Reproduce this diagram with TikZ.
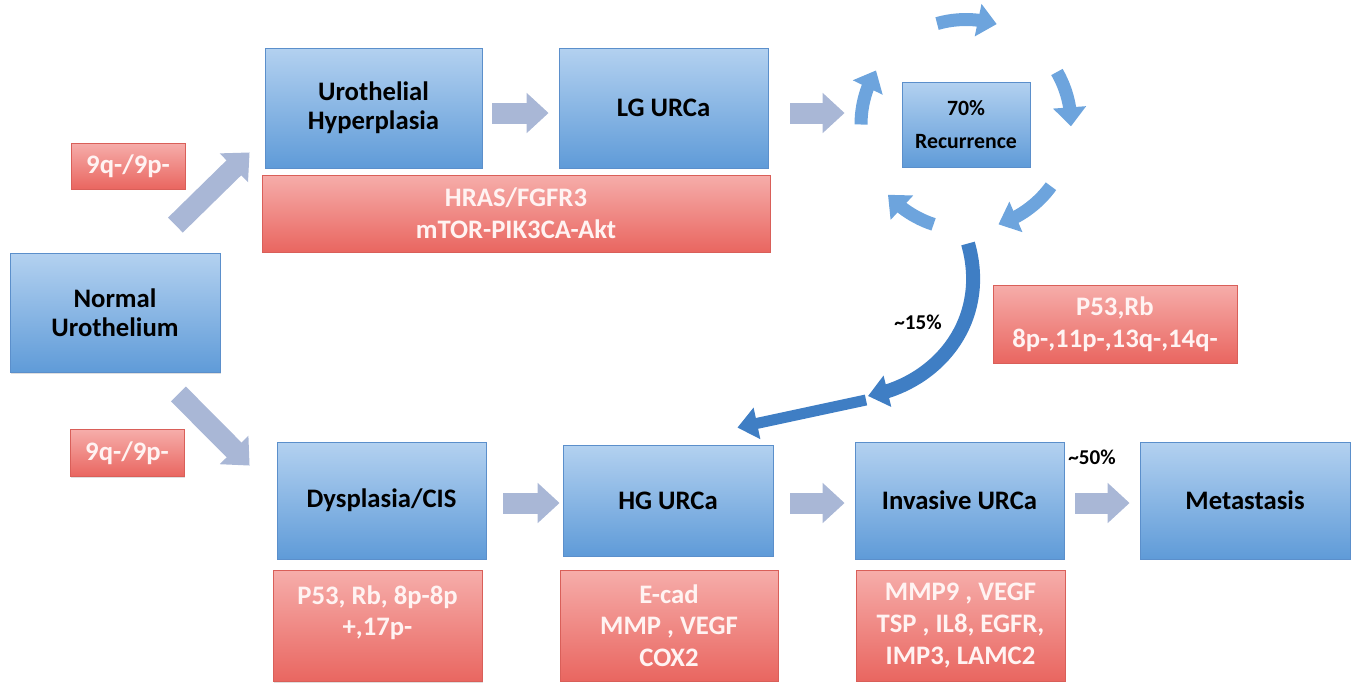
\documentclass[tikz,border=0pt]{standalone}
\usepackage{fontspec}
\setmainfont{Carlito}
\usetikzlibrary{arrows.meta,bending,shadows,positioning}

\definecolor{bluetop}{HTML}{B3D1F0}
\definecolor{bluebot}{HTML}{5F9BD8}
\definecolor{blueedge}{HTML}{5B8FCB}
\definecolor{redtop}{HTML}{F6ADAA}
\definecolor{redbot}{HTML}{E96660}
\definecolor{rededge}{HTML}{D95F59}
\definecolor{redtext}{HTML}{FFF3F2}
\definecolor{fatgrey}{HTML}{A9B7D6}
\definecolor{loopblue}{HTML}{6DA4DD}
\definecolor{jumpblue}{HTML}{3F7EC4}

\begin{document}
\begin{tikzpicture}[x=0.02cm, y=-0.02cm]
        \tikzstyle{bluebox}=[rectangle, draw=blueedge, line width=0.5pt, top color=bluetop, bottom color=bluebot, text=black, align=center, inner sep=0pt, font=\fontsize{15.2}{16.5}\selectfont\bfseries, drop shadow={opacity=0.25, shadow xshift=0.6pt, shadow yshift=-0.8pt}]
        \tikzstyle{redbox}=[rectangle, draw=rededge, line width=0.5pt, top color=redtop, bottom color=redbot, text=redtext, align=center, inner sep=0pt, font=\fontsize{15.2}{18}\selectfont\bfseries, drop shadow={opacity=0.25, shadow xshift=0.6pt, shadow yshift=-0.8pt}]
        \tikzstyle{fat}=[draw=fatgrey, line width=0.42cm, -{Triangle[length=0.44cm, width=0.78cm]}]
        \tikzstyle{loop}=[draw=loopblue, line width=0.26cm, -{Triangle[length=0.38cm, width=0.64cm]}]
        \tikzstyle{jump}=[draw=jumpblue, line width=0.28cm, -{Triangle[length=0.4cm, width=0.62cm]}]
        \tikzstyle{pct}=[font=\fontsize{12}{14}\selectfont\bfseries, inner sep=1pt]
        \useasboundingbox (0,0) rectangle (1356,683);
        \node [bluebox, minimum width=4.2cm, minimum height=2.38cm] (norm) at (115,313) {Normal\\Urothelium};
        \node [redbox, minimum width=2.28cm, minimum height=0.92cm] (qup) at (128,166) {9q-/9p-};
        \node [redbox, minimum width=2.28cm, minimum height=0.94cm] (qdn) at (127,453) {9q-/9p-};
        \node [bluebox, minimum width=4.34cm, minimum height=2.4cm] (hyper) at (373.5,108) {Urothelial\\Hyperplasia};
        \node [bluebox, minimum width=4.18cm, minimum height=2.4cm] (lg) at (663.5,108) {LG URCa};
        \node [redbox, minimum width=10.16cm, minimum height=1.54cm] (hras) at (516,213.5) {HRAS/FGFR3\\mTOR-PIK3CA-Akt};
        \node [bluebox, minimum width=2.56cm, minimum height=1.7cm, font=\fontsize{12.4}{19}\selectfont\bfseries] (rec) at (966,124.5) {70\%\\Recurrence};
        \node [redbox, minimum width=4.88cm, minimum height=1.56cm] (p53) at (1115,324) {P53,Rb\\8p-,11p-,13q-,14q-};
        \node [bluebox, minimum width=4.18cm, minimum height=2.34cm] (dys) at (381.5,500.5) {Dysplasia/CIS};
        \node [bluebox, minimum width=4.2cm, minimum height=2.22cm] (hg) at (668,500.5) {HG URCa};
        \node [bluebox, minimum width=4.18cm, minimum height=2.34cm] (inv) at (959.5,500.5) {Invasive URCa};
        \node [bluebox, minimum width=4.2cm, minimum height=2.34cm] (meta) at (1245,500.5) {Metastasis};
        \node [redbox, minimum width=4.18cm, minimum height=2.22cm, below=0.22cm of dys.south, xshift=-0.08cm] (dysr) {P53, Rb, 8p-8p\\+,17p-\\\phantom{X}};
        \node [redbox, minimum width=4.36cm, minimum height=2.22cm] (hgr) at (669,625.5) {E-cad\\MMP , VEGF\\COX2};
        \node [redbox, minimum width=4.18cm, minimum height=2.22cm] (invr) at (960.5,625.5) {MMP9 , VEGF\\TSP , IL8, EGFR,\\IMP3, LAMC2};
        \node [pct] (pct15) at (918,322) {\textasciitilde15\%};
        \node [pct] (pct50) at (1092,457) {\textasciitilde50\%};
        \draw [fat] ([shift={(-45,-28)}]norm.north east) -- ([shift={(-15,-16)}]hyper.south west);
        \draw [fat] ([shift={(-42,21)}]norm.south east) -- ([shift={(-27,24)}]dys.north west);
        \draw [fat, shorten <=0.2cm, shorten >=0.2cm] ([yshift=-0.1cm]hyper.east) -- ([yshift=-0.1cm]hyper.east -| lg.west);
        \draw [fat, shorten <=0.44cm, shorten >=1.14cm] ([yshift=-0.1cm]lg.east) -- ([yshift=-0.1cm]lg.east -| rec.west);
        \draw [fat, shorten <=0.34cm, shorten >=0.06cm] ([yshift=-0.05cm]dys.east) -- ([yshift=-0.05cm]dys.east -| hg.west);
        \draw [fat, shorten <=0.34cm, shorten >=0.2cm] ([yshift=-0.05cm]hg.east) -- ([yshift=-0.05cm]hg.east -| inv.west);
        \draw [fat, shorten <=0.22cm, shorten >=0.2cm] ([yshift=-0.05cm]inv.east) -- ([yshift=-0.05cm]inv.east -| meta.west);
        \foreach \a/\b in {-106/-73, -30/1, 36/72, 108/138, 180/211}
            \draw [loop] (rec.center) ++(\a:105) arc [start angle=\a, end angle=\b, radius=105];
        \coordinate (jumpin) at ([shift={(2,119)}]rec.center);
        \coordinate (jumpmid) at (868,396);
        \coordinate (jumpout) at (866,400);
        \draw [jump] (jumpin) .. controls +(22,77) and +(70,-12) .. (jumpmid);
        \draw [jump, line width=0.22cm] (jumpout) -- ([shift={(-36,-17)}]hg.north east);
\end{tikzpicture}
\end{document}
